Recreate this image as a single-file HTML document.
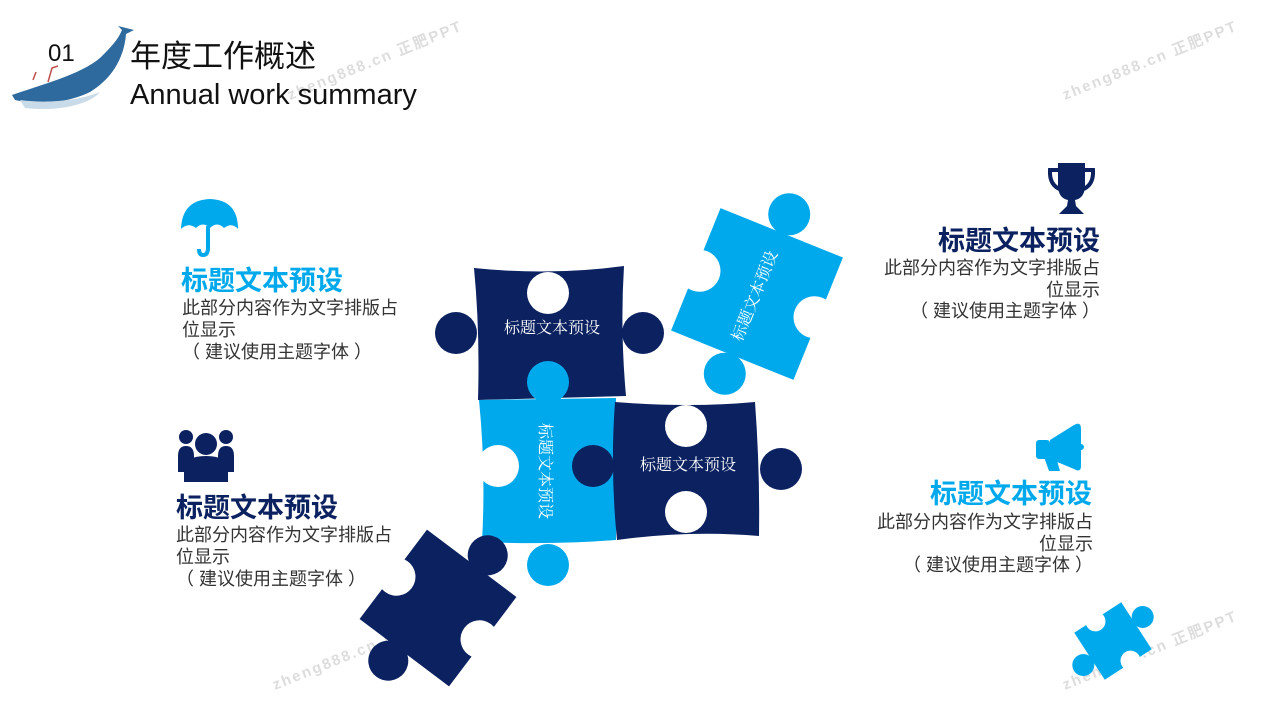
<!DOCTYPE html>
<html><head><meta charset="utf-8"><style>
body{margin:0;background:#fff;}
svg{display:block;font-family:"Liberation Sans","Noto Sans CJK SC",sans-serif;}
.b{font-size:18px;fill:#333;}
.t{font-size:27px;font-weight:bold;}
.wm{font-size:15px;fill:#ddd;font-weight:bold;letter-spacing:2px;}
</style></head><body>
<svg width="1280" height="720" viewBox="0 0 1280 720">
<text class="wm" transform="translate(1065,100) rotate(-22)">zheng888.cn 正肥PPT</text>
<text class="wm" transform="translate(290,100) rotate(-22)">zheng888.cn 正肥PPT</text>
<text class="wm" transform="translate(275,690) rotate(-22)">zheng888.cn 正肥PPT</text>
<text class="wm" transform="translate(1065,690) rotate(-22)">zheng888.cn 正肥PPT</text>

<path d="M12,95 C40,85 80,75 100,58 C110,48 118,40 122,30 L118,26 L134,30 L126,34 C124,60 110,80 90,92 C70,102 40,106 15,100 Z" fill="#2e6a9e"/>
<path d="M20,100 C50,104 80,100 100,92 C90,104 60,112 25,108 Z" fill="#c9dbe8"/>
<path d="M33,80 L36,72 M48,82 L52,68 L58,66" stroke="#c0504d" stroke-width="1.5" fill="none"/>
<text x="48" y="61" font-size="24" fill="#111">01</text>
<text x="130" y="67" font-size="31" fill="#111">年度工作概述</text>
<text x="130" y="104" font-size="29" fill="#111">Annual work summary</text>

<g fill="#0b2160">
<path d="M474,268 Q550,276 624,266 Q620,330 626,396 L478,400 Q480,330 474,268Z"/>
<circle cx="456" cy="333" r="21"/><circle cx="643" cy="333" r="21"/>
</g>
<circle cx="548" cy="293" r="21" fill="#fff"/>
<g fill="#00a9ec">
<path d="M479,400 L616,398 L616,540 Q550,545 482,542 Q486,470 479,400Z"/>
<circle cx="548" cy="382" r="21"/><circle cx="548" cy="565" r="21"/>
</g>
<circle cx="498" cy="466" r="21" fill="#fff"/>
<g fill="#0b2160">
<path d="M615,402 Q690,408 755,402 Q760,470 759,536 Q690,530 617,540 Q610,470 615,402Z"/>
<circle cx="593" cy="466" r="21"/><circle cx="781" cy="469" r="21"/>
</g>
<circle cx="686" cy="426" r="21" fill="#fff"/><circle cx="686" cy="512" r="21" fill="#fff"/>
<g transform="translate(757,294) rotate(22)">
<g fill="#00a9ec"><rect x="-66" y="-66" width="132" height="132"/>
<circle cx="0" cy="-86" r="21"/><circle cx="0" cy="86" r="21"/></g>
<circle cx="-62" cy="0" r="21" fill="#fff"/><circle cx="62" cy="0" r="21" fill="#fff"/>
</g>
<g transform="translate(438,608) rotate(37)">
<g fill="#0b2160"><rect x="-56" y="-56" width="112" height="112"/>
<circle cx="8" cy="-72" r="20"/><circle cx="-8" cy="72" r="20"/></g>
<circle cx="-52" cy="0" r="19" fill="#fff"/><circle cx="52" cy="0" r="19" fill="#fff"/>
</g>
<g transform="translate(1113,641) rotate(-33)">
<g fill="#00a9ec"><rect x="-28" y="-28" width="56" height="56"/>
<circle cx="38" cy="-4" r="11"/><circle cx="-38" cy="4" r="11"/></g>
<circle cx="-4" cy="-26" r="10" fill="#fff"/><circle cx="4" cy="26" r="10" fill="#fff"/>
</g>

<g font-family="Liberation Serif,'Noto Serif CJK SC',serif" font-size="16" fill="#fff" text-anchor="middle">
<text x="552" y="333">标题文本预设</text>
<text x="688" y="470">标题文本预设</text>
<text transform="translate(545,471) rotate(90)" dy="5">标题文本预设</text>
<text transform="translate(755,296) rotate(-68)" dy="5">标题文本预设</text>
</g>

<g fill="#00a9ec">
<path d="M181,229 Q182,200 210,199 Q238,200 238,229 Q232,222 224,228 Q217,221 210,228 Q203,221 196,228 Q188,222 181,229Z"/>
<path d="M208,226 L208,248 Q208,255 203,255 Q199,255 199,249" stroke="#00a9ec" stroke-width="4" fill="none"/>
<rect x="1036" y="440" width="14" height="19" rx="3"/>
<path d="M1050,440 L1074,425 Q1081,421 1081,429 L1081,466 Q1081,473 1074,469 L1050,459Z"/>
<path d="M1044,457 L1056,457 L1060,471 L1049,471Z"/>
</g>
<circle cx="1081" cy="447" r="3" fill="#00a9ec"/>
<g fill="#0b2160">
<circle cx="186" cy="437" r="7"/><circle cx="226" cy="437" r="7"/>
<path d="M178,456 Q178,446 186,446 Q194,446 194,456 L194,472 L178,472Z"/>
<path d="M218,456 Q218,446 226,446 Q234,446 234,456 L234,472 L218,472Z"/>
<circle cx="206" cy="444" r="11"/>
<path d="M184,480 L184,470 Q184,456 206,456 Q228,456 228,470 L228,482 L184,482Z"/>
<path d="M1058,163 L1085,163 L1085,185 Q1085,198 1075,200 L1076,206 L1084,214 L1059,214 L1067,206 L1068,200 Q1058,198 1058,185 Z"/>
</g>
<path d="M1058,170 L1050,170 Q1049,186 1062,190 M1085,170 L1093,170 Q1094,186 1081,190" stroke="#0b2160" stroke-width="4" fill="none"/>

<text class="t" x="181" y="290" fill="#00a9ec">标题文本预设</text>
<text class="b" x="182" y="314">此部分内容作为文字排版占</text>
<text class="b" x="182" y="336">位显示</text>
<text class="b" x="182" y="358">（ 建议使用主题字体 ）</text>

<text class="t" x="176" y="517" fill="#0b2160">标题文本预设</text>
<text class="b" x="176" y="541">此部分内容作为文字排版占</text>
<text class="b" x="176" y="563">位显示</text>
<text class="b" x="176" y="585">（ 建议使用主题字体 ）</text>

<g text-anchor="end">
<text class="t" x="1100" y="250" fill="#0b2160">标题文本预设</text>
<text class="b" x="1100" y="274">此部分内容作为文字排版占</text>
<text class="b" x="1100" y="296">位显示</text>
<text class="b" x="1100" y="317">（ 建议使用主题字体 ）</text>

<text class="t" x="1092" y="503" fill="#00a9ec">标题文本预设</text>
<text class="b" x="1093" y="528">此部分内容作为文字排版占</text>
<text class="b" x="1093" y="550">位显示</text>
<text class="b" x="1093" y="571">（ 建议使用主题字体 ）</text>
</g>
</svg>
</body></html>
